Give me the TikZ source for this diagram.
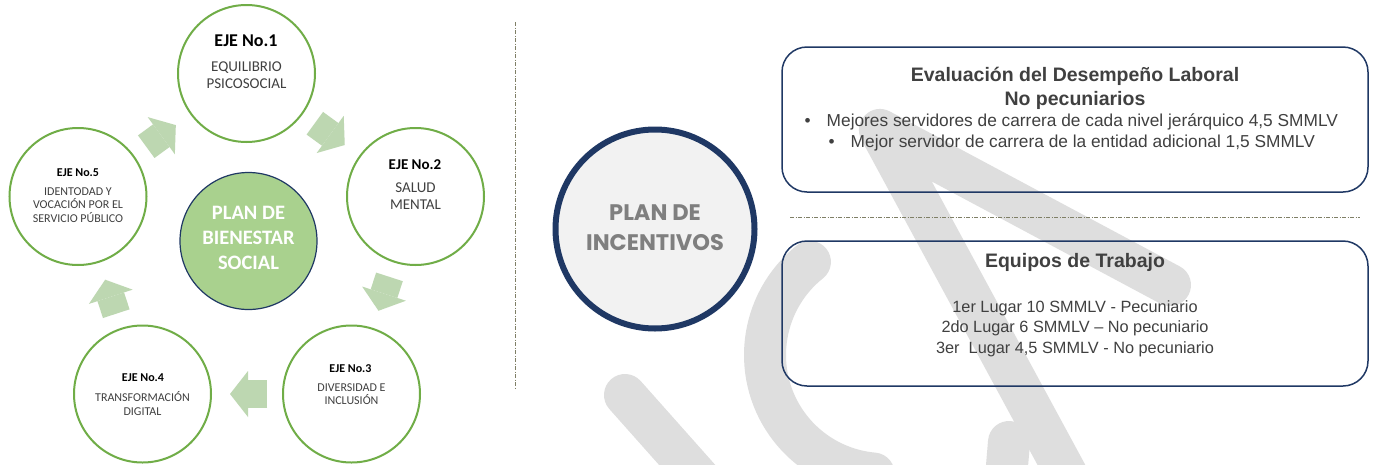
\documentclass[tikz,border=0pt]{standalone}
\usepackage{fontspec}
\setmainfont{Liberation Sans}
\newfontfamily\calfont{Carlito}
\newfontfamily\gothfont{Poppins}
\usetikzlibrary{arrows.meta}
\definecolor{ejegreen}{HTML}{70AD47}
\definecolor{centergreen}{HTML}{A9D18E}
\definecolor{arrowgreen}{HTML}{BDD7B1}
\definecolor{navy}{HTML}{1F3864}
\definecolor{bodygrey}{HTML}{404040}
\definecolor{markgrey}{HTML}{DEDEDE}
\definecolor{sepgrey}{HTML}{7F7F66}
\definecolor{incgrey}{HTML}{7F7F7F}
\definecolor{incfill}{HTML}{F2F2F2}
\begin{document}
\begin{tikzpicture}[x=1pt,y=-1pt,
  eje/.style={circle,draw=ejegreen,line width=2pt,minimum size=137pt,inner sep=0pt},
  bigtitle/.style={inner sep=0pt,align=center,text=black,font={\calfont\bfseries\fontsize{18}{20}\selectfont}},
  midtitle/.style={inner sep=0pt,align=center,text=black,font={\calfont\bfseries\fontsize{15}{17}\selectfont}},
  smalltitle/.style={inner sep=0pt,align=center,text=black,font={\calfont\bfseries\fontsize{12}{13}\selectfont}},
  middesc/.style={inner sep=0pt,align=center,text=bodygrey,font={\calfont\fontsize{15}{16.5}\selectfont}},
  smalldesc/.style={inner sep=0pt,align=center,text=bodygrey,font={\calfont\fontsize{12}{13.3}\selectfont}},
  flow/.style={draw=arrowgreen,line width=28pt,shorten <=15pt,shorten >=18pt,
    -{Triangle[length=18pt,width=46pt,line width=0pt]}},
  sep/.style={draw=sepgrey,line width=0.8pt,dash pattern=on 4pt off 1.5pt on 1pt off 1.5pt},
  panel/.style={draw=navy,line width=1.5pt,rounded corners=25pt,minimum width=586pt,minimum height=145pt,inner sep=0pt},
  head/.style={inner sep=0pt,align=center,text=bodygrey,font={\bfseries\fontsize{19.5}{24}\selectfont}},
  body/.style={inner sep=0pt,align=center,text=bodygrey,font={\fontsize{17.3}{21}\selectfont}},
  lines/.style={inner sep=0pt,align=center,text=bodygrey,font={\fontsize{16.3}{20.5}\selectfont}},
  wmark/.style={draw=markgrey,line width=42pt,line cap=round,line join=round}
]
\useasboundingbox[fill=white] (0,0) rectangle (1377,464);

% watermark strokes behind the right half
\begin{scope}
\clip (520,0) rectangle (1377,464);
\draw[wmark] (1075,490) -- (880,130) -- (1170,285);
\draw[wmark] (884,355) ++(231.5:119) arc[start angle=231.5,end angle=95,radius=119];
\draw[wmark] (625,395) -- (705,485);
\draw[wmark] (1009,442) -- (1005,490);
\end{scope}

% wellbeing cycle
\node[eje] (e1) at (246.5,73.5) {};
\node[eje] (e2) at (415.5,196.5) {};
\node[eje] (e3) at (351.5,394) {};
\node[eje] (e4) at (142.5,394) {};
\node[eje] (e5) at (78,196.5) {};
\node[circle,fill=centergreen,draw=navy,line width=1.2pt,minimum size=137pt,inner sep=0pt] (core) at (248.5,241) {};

\draw[flow] (e5) -- (e1);
\draw[flow] (e1) -- (e2);
\draw[flow] (e2) -- (e3);
\draw[flow] (e3) -- (e4);
\draw[flow] (e4) -- (e5);

\node[bigtitle] (t1) at (246,41) {EJE No.1};
\node[middesc] (d1) at (246.5,75) {EQUILIBRIO\\PSICOSOCIAL};
\node[midtitle] (t2) at (415,165) {EJE No.2};
\node[middesc] (d2) at (415.5,196) {SALUD\\MENTAL};
\node[smalltitle] (t3) at (350.5,369) {EJE No.3};
\node[smalldesc] (d3) at (351.5,394) {DIVERSIDAD E\\INCLUSIÓN};
\node[smalltitle] (t4) at (143,378) {EJE No.4};
\node[smalldesc] (d4) at (142.5,403.5) {TRANSFORMACIÓN\\DIGITAL};
\node[smalltitle] (t5) at (78,173) {EJE No.5};
\node[smalldesc] (d5) at (78,205) {IDENTODAD Y\\VOCACIÓN POR EL\\SERVICIO PÚBLICO};
\node[inner sep=0pt,align=center,text=white,font={\calfont\bfseries\fontsize{20.5}{25}\selectfont}] (ct) at (248.5,238) {PLAN DE\\BIENESTAR\\SOCIAL};

% separators
\coordinate (vtop) at (515.5,22);
\coordinate (vbot) at (515.5,388);
\draw[sep] (vtop) -- (vbot);
\coordinate (hl) at (790,217);
\coordinate (hr) at (1360,217);
\draw[sep] (hl) -- (hr);

% incentives plan
\node[circle,draw=navy,fill=incfill,line width=6pt,minimum size=199pt,inner sep=0pt] (inc) at (655,229) {};
\node[inner sep=0pt,align=center,text=incgrey,font={\gothfont\bfseries\fontsize{22.5}{30}\selectfont}] (inct) at (655,228) {PLAN DE\\INCENTIVOS};

\node[panel] (p1) at (1075,119.5) {};
\node[panel] (p2) at (1075,313.5) {};

\node[head] (h1) at (1075,88) {Evaluación del Desempeño Laboral\\No pecuniarios};
\node[body,anchor=west] (b1) at (804.5,122) {\textbullet\hspace{16pt}Mejores servidores de carrera de cada nivel jerárquico 4,5 SMMLV};
\node[body,anchor=west] (b2) at (828.5,143) {\textbullet\hspace{16pt}Mejor servidor de carrera de la entidad adicional 1,5 SMMLV};

\node[head] (h2) at (1075,262) {Equipos de Trabajo};
\node[lines] (l2) at (1075,328.5) {1er Lugar 10 SMMLV - Pecuniario\\2do Lugar 6 SMMLV – No pecuniario\\3er\ \ Lugar 4,5 SMMLV - No pecuniario};
\end{tikzpicture}
\end{document}
